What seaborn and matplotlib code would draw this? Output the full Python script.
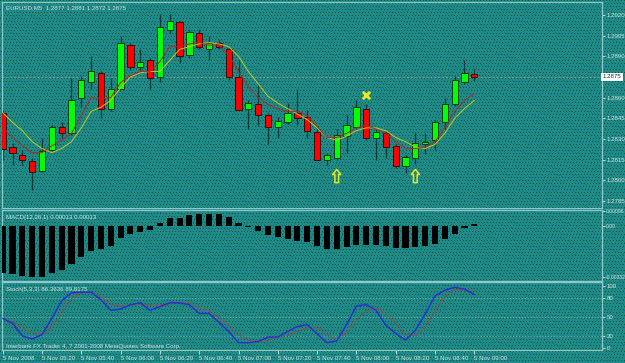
import numpy as np
import pandas as pd
import matplotlib
matplotlib.use("Agg")
import matplotlib.pyplot as plt
import matplotlib.transforms as mtrans
from matplotlib.path import Path
import seaborn as sns

sns.set_theme(style="white")
plt.rcParams['font.family'] = ['Liberation Sans', 'DejaVu Sans']

# ---------------- data ----------------
opens = [1.2849, 1.2824, 1.2818, 1.2814, 1.2807, 1.2822, 1.2839, 1.2834, 1.2860, 1.2871,
         1.2878, 1.2852, 1.2866, 1.2898, 1.2882, 1.2887, 1.2875, 1.2909, 1.2915, 1.2891,
         1.2907, 1.2895, 1.2900, 1.2895, 1.2875, 1.2852, 1.2855, 1.2847, 1.2839, 1.2842,
         1.2849, 1.2846, 1.2835, 1.2815, 1.2816, 1.2832, 1.2839, 1.2852, 1.2831, 1.2834,
         1.2825, 1.2810, 1.2816, 1.2826, 1.2829, 1.2842, 1.2855, 1.2871, 1.2877]
highs = [1.2851, 1.2827, 1.2822, 1.2816, 1.2831, 1.2840, 1.2842, 1.2874, 1.2876, 1.2890,
         1.2879, 1.2874, 1.2905, 1.2900, 1.2895, 1.2889, 1.2921, 1.2921, 1.2916, 1.2909,
         1.2910, 1.2905, 1.2902, 1.2897, 1.2887, 1.2858, 1.2869, 1.2849, 1.2846, 1.2856,
         1.2866, 1.2851, 1.2837, 1.2820, 1.2837, 1.2847, 1.2858, 1.2855, 1.2837, 1.2836,
         1.2826, 1.2818, 1.2834, 1.2834, 1.2844, 1.2860, 1.2876, 1.2887, 1.2881]
lows = [1.2815, 1.2811, 1.2811, 1.2793, 1.2806, 1.2821, 1.2831, 1.2833, 1.2853, 1.2866,
        1.2845, 1.2850, 1.2866, 1.2880, 1.2880, 1.2866, 1.2871, 1.2907, 1.2885, 1.2889,
        1.2895, 1.2887, 1.2895, 1.2873, 1.2850, 1.2837, 1.2840, 1.2826, 1.2831, 1.2841,
        1.2840, 1.2831, 1.2815, 1.2811, 1.2815, 1.2820, 1.2838, 1.2829, 1.2815, 1.2816,
        1.2809, 1.2805, 1.2812, 1.2819, 1.2822, 1.2837, 1.2854, 1.2870, 1.2872]
closes = [1.2823, 1.2820, 1.2815, 1.2806, 1.2821, 1.2839, 1.2834, 1.2858, 1.2873, 1.2879,
          1.2852, 1.2866, 1.2900, 1.2882, 1.2886, 1.2874, 1.2911, 1.2916, 1.2890, 1.2908,
          1.2897, 1.2900, 1.2897, 1.2875, 1.2851, 1.2856, 1.2847, 1.2839, 1.2843, 1.2849,
          1.2845, 1.2836, 1.2815, 1.2818, 1.2833, 1.2840, 1.2853, 1.2831, 1.2835, 1.2824,
          1.2810, 1.2817, 1.2827, 1.2828, 1.2842, 1.2855, 1.2873, 1.2878, 1.2875]

ma_fast = [1.2838, 1.2831, 1.2825, 1.2820, 1.2820, 1.2825, 1.2829, 1.2834, 1.2847, 1.2860,
           1.2859, 1.2860, 1.2871, 1.2876, 1.2879, 1.2879, 1.2886, 1.2897, 1.2897, 1.2899,
           1.2900, 1.2898, 1.2898, 1.2891, 1.2879, 1.2868, 1.2860, 1.2855, 1.2852, 1.2850,
           1.2850, 1.2847, 1.2839, 1.2831, 1.2831, 1.2834, 1.2838, 1.2840, 1.2837, 1.2834,
           1.2828, 1.2823, 1.2823, 1.2824, 1.2828, 1.2838, 1.2850, 1.2858, 1.2863]
ma_slow = [1.2849, 1.2842, 1.2836, 1.2828, 1.2823, 1.2820, 1.2823, 1.2828, 1.2838, 1.2850,
           1.2853, 1.2858, 1.2867, 1.2875, 1.2878, 1.2879, 1.2879, 1.2887, 1.2895, 1.2897,
           1.2899, 1.2900, 1.2899, 1.2897, 1.2890, 1.2879, 1.2870, 1.2861, 1.2856, 1.2852,
           1.2848, 1.2844, 1.2838, 1.2831, 1.2829, 1.2832, 1.2836, 1.2838, 1.2838, 1.2836,
           1.2831, 1.2828, 1.2824, 1.2823, 1.2826, 1.2834, 1.2845, 1.2852, 1.2858]

macd = [-0.00308, -0.00315, -0.00323, -0.00332, -0.00330, -0.00308, -0.00286, -0.00247, -0.00204, -0.00163,
        -0.00152, -0.00128, -0.00080, -0.00054, -0.00037, -0.00028, 0.00017, 0.00050, 0.00054, 0.00072,
        0.00076, 0.00080, 0.00080, 0.00061, 0.00022, -0.00007, -0.00033, -0.00059, -0.00074, -0.00085,
        -0.00098, -0.00106, -0.00130, -0.00152, -0.00152, -0.00139, -0.00124, -0.00124, -0.00124, -0.00128,
        -0.00141, -0.00145, -0.00139, -0.00132, -0.00115, -0.00087, -0.00050, -0.00010, 0.00013]

stoch_main = [48, 40, 20, 15, 22, 48, 76, 89, 90, 90, 78, 61, 63, 70, 73, 61, 67, 73, 73, 70,
              56, 56, 42, 27, 9, 9, 11, 18, 18, 27, 35, 38, 23, 9, 12, 38, 68, 70, 61, 37,
              24, 13, 29, 55, 84, 93, 98, 95, 86.36]
stoch_signal = [48, 42, 33, 25, 23, 34, 56, 80, 89, 90, 83, 71, 68, 69, 71, 70, 70, 71, 73, 72,
                65, 60, 49, 37, 22, 13, 11, 13, 18, 21, 27, 33, 33, 22, 15, 25, 45, 60, 64, 55,
                40, 22, 20, 33, 60, 84, 94, 93, 89.82]

time_labels = ["5 Nov 2008", "5 Nov 05:20", "5 Nov 05:40", "5 Nov 06:00", "5 Nov 06:20",
               "5 Nov 06:40", "5 Nov 07:00", "5 Nov 07:20", "5 Nov 07:40", "5 Nov 08:00",
               "5 Nov 08:20", "5 Nov 08:40", "5 Nov 09:00"]
price_ticks = [1.2920, 1.2905, 1.2890, 1.2860, 1.2845, 1.2830, 1.2815, 1.2800, 1.2785]
last_price = 1.2875
x_mark = (37, 1.2862)
up_arrows = [(34, 1.2803), (42, 1.2803)]

n = len(opens)
idx = np.arange(n)
df = pd.DataFrame({"i": idx, "open": opens, "high": highs, "low": lows, "close": closes,
                   "ma_fast": ma_fast, "ma_slow": ma_slow, "macd": macd,
                   "k": stoch_main, "d": stoch_signal})

# ---------------- figure ----------------
W, H = 625, 363
fig = plt.figure(figsize=(W / 100, H / 100), dpi=100)

# dithered teal background (GIF-style dot texture)
yy, xx = np.mgrid[0:H, 0:W]
bg = np.empty((H, W, 3))
bg[:] = np.array([30, 138, 138]) / 255
mg = ((xx * 3 + yy * 7) % 9 == 0)
bg[mg] = np.array([12, 98, 40]) / 255
mb = ((xx * 5 + yy * 2) % 17 == 0) & ~mg
bg[mb] = np.array([40, 100, 150]) / 255
fig.figimage(bg, 0, 0, zorder=-10, origin='upper')

TXT = '#d4e6e6'
BORDER = '#8fc8c8'
FS = 4.4
XL = ((2 - 2.7) / 9.825, (602 - 2.7) / 9.825)

def make_ax(top_px, bottom_px):
    ax = fig.add_axes([2 / W, (H - bottom_px) / H, 600 / W, (bottom_px - top_px) / H])
    ax.set_facecolor('none')
    ax.patch.set_alpha(0)
    for s in ax.spines.values():
        s.set_color(BORDER)
        s.set_linewidth(0.9)
    ax.yaxis.tick_right()
    ax.tick_params(axis='y', colors=TXT, labelsize=FS, length=2, width=0.6, pad=1.5, right=True)
    ax.tick_params(axis='x', bottom=False, labelbottom=False)
    ax.set_xlim(*XL)
    ax.grid(False)
    return ax

# ---------------- main price panel ----------------
ax = make_ax(2, 208)
ax.set_ylim(1.2920 - 193 * 0.0015 / 20.65, 1.2920 + 13 * 0.0015 / 20.65)

ax.axhline(last_price, color='#9a9090', lw=0.7, ls=(0, (2, 2)), zorder=1)

ax.vlines(df["i"], df["low"], df["high"], color='#0e3a3a', lw=0.9, zorder=2)
up = df["close"] >= df["open"]
body_bottom = np.minimum(df["open"], df["close"])
body_h = np.maximum(np.abs(df["close"] - df["open"]), 0.00003)
ax.bar(df["i"][up], body_h[up], bottom=body_bottom[up], width=0.64,
       color='#00ff00', edgecolor='#062a0a', linewidth=0.6, zorder=3)
ax.bar(df["i"][~up], body_h[~up], bottom=body_bottom[~up], width=0.64,
       color='#ff0000', edgecolor='#2a0606', linewidth=0.6, zorder=3)

sns.lineplot(data=df, x="i", y="ma_slow", color='#c8c81e', lw=0.7, ax=ax, zorder=4, legend=False)
sns.lineplot(data=df, x="i", y="ma_fast", color='#b02828', lw=0.7, ax=ax, zorder=4, legend=False)

ax.scatter([x_mark[0]], [x_mark[1]], marker='x', s=28, color='#eaea20', linewidths=2.0, zorder=6)
arrow = Path([(0, 1), (0.62, 0.25), (0.28, 0.25), (0.28, -1), (-0.28, -1), (-0.28, 0.25),
              (-0.62, 0.25), (0, 1)], closed=True)
ax.scatter([a[0] for a in up_arrows], [a[1] for a in up_arrows], marker=arrow, s=90,
           facecolors='none', edgecolors='#e8e820', linewidths=1.1, zorder=6)

ax.set_xlim(*XL)
ax.set_yticks(price_ticks)
ax.set_yticklabels([f"{p:.4f}" for p in price_ticks])
ax.set_xlabel("")
ax.set_ylabel("")
trans = mtrans.blended_transform_factory(ax.transAxes, ax.transData)
ax.text(1.0017, last_price, f"{last_price:.4f}", transform=trans, fontsize=FS, color='#1a2a2a',
        va='center', ha='left',
        bbox=dict(boxstyle='square,pad=0.25', fc='white', ec='none'), zorder=10, clip_on=False)
ax.text(0.006, 0.985, "EURUSD,M5  1.2877 1.2881 1.2872 1.2875", transform=ax.transAxes,
        fontsize=FS, color=TXT, va='top', ha='left')

# ---------------- MACD panel ----------------
ax2 = make_ax(210, 281)
sns.barplot(data=df, x="i", y="macd", native_scale=True, color='black', saturation=1,
            width=0.62, ax=ax2, zorder=3, edgecolor='black', linewidth=0)
ax2.set_xlim(*XL)
ax2.set_ylim(-0.00358, 0.00104)
ax2.set_yticks([0.00096, 0.0, -0.00332])
ax2.set_yticklabels(["0.00096", "0.00", "-0.00332"])
ax2.tick_params(axis='y', labelsize=3.6, pad=0.8)
ax2.tick_params(axis='x', bottom=False, labelbottom=False)
ax2.set_xlabel("")
ax2.set_ylabel("")
ax2.text(0.006, 0.93, "MACD(12,26,1) 0.00013 0.00013", transform=ax2.transAxes,
         fontsize=FS, color=TXT, va='top', ha='left')

# ---------------- Stochastic panel ----------------
ax3 = make_ax(282, 350)
ax3.set_ylim(-2.7, 106.4)
for lvl in (20, 50, 80):
    ax3.axhline(lvl, color='#7ab0b0', lw=0.6, ls=(0, (1.5, 2)), zorder=1)
sns.lineplot(data=df, x="i", y="d", color='#c83232', lw=0.8, ax=ax3, zorder=3, legend=False,
             linestyle=(0, (3, 2)))
sns.lineplot(data=df, x="i", y="k", color='#2a2ad8', lw=1.0, ax=ax3, zorder=4, legend=False)
ax3.set_xlim(*XL)
ax3.set_yticks([100, 80, 50, 20, 0])
ax3.set_yticklabels(["100", "80", "50", "20", "0"])
ax3.set_xticks(idx[::4])
ax3.set_xticklabels(time_labels)
ax3.tick_params(axis='x', bottom=True, labelbottom=True, colors=TXT, labelsize=FS,
                length=3, width=0.6, pad=1.5, direction='out')
for lbl in ax3.get_xticklabels():
    lbl.set_horizontalalignment('left')
ax3.set_xlabel("")
ax3.set_ylabel("")
ax3.text(0.006, 0.93, "Stoch(5,3,3) 86.3636 89.8175", transform=ax3.transAxes,
         fontsize=FS, color=TXT, va='top', ha='left')
ax3.text(0.006, 0.02, "Interbank FX Trader 4, ? 2001-2008 MetaQuotes Software Corp.",
         transform=ax3.transAxes, fontsize=FS, color=TXT, va='bottom', ha='left')

fig.savefig("out.png", dpi=100)
